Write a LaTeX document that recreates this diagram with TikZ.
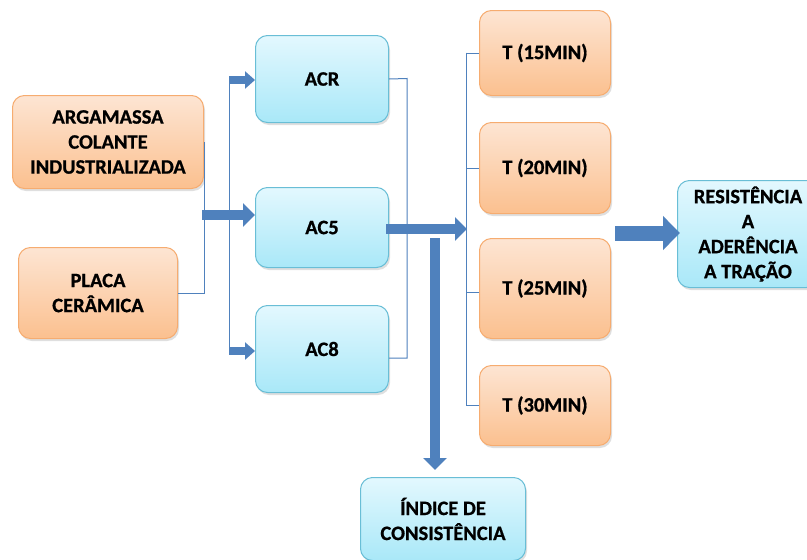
\documentclass[tikz,border=0pt]{standalone}
\usepackage{fontspec}
\setmainfont{Carlito}
\newfontfamily\heavy{Carlito Bold}[FakeBold=0.8]
\usetikzlibrary{arrows.meta,shadows}
\definecolor{orTop}{RGB}{253,229,211}
\definecolor{orBot}{RGB}{251,192,143}
\definecolor{orLine}{RGB}{246,172,112}
\definecolor{blTop}{RGB}{227,248,254}
\definecolor{blBot}{RGB}{169,232,248}
\definecolor{blLine}{RGB}{105,190,214}
\definecolor{arr}{RGB}{79,129,189}
\tikzset{
  box/.style={draw, line width=1pt, rounded corners=12pt, anchor=north west,
    inner sep=0pt, align=center, font=\heavy\fontsize{20.5}{25}\selectfont,
    drop shadow={shadow xshift=1.5pt,shadow yshift=-2.5pt,opacity=0.25}},
  orbox/.style={box, draw=orLine, top color=orTop, bottom color=orBot},
  blbox/.style={box, draw=blLine, top color=blTop, bottom color=blBot},
  thin/.style={draw=arr, line width=1pt},
  bigarrow/.style={draw=arr, line width=10pt, -{Triangle[length=12pt,width=23pt]}},
  smallarrow/.style={draw=arr, line width=8pt, -{Triangle[length=10pt,width=17pt]}},
  hugearrow/.style={draw=arr, line width=15pt, -{Triangle[length=17pt,width=33pt]}},
}
\begin{document}
\begin{tikzpicture}[x=1pt,y=-1pt]
\useasboundingbox[fill=white] (0,0) rectangle (807,560);
% nodes
\node[orbox, minimum width=191pt, minimum height=93pt] (arg) at (12,95) {ARGAMASSA\\COLANTE\\INDUSTRIALIZADA};
\node[orbox, minimum width=159pt, minimum height=91pt] (placa) at (18,247) {PLACA\\CERÂMICA};
\node[blbox, minimum width=133pt, minimum height=87pt] (acr) at (255,35) {ACR};
\node[blbox, minimum width=133pt, minimum height=80pt] (ac5) at (255,187) {AC5};
\node[blbox, minimum width=133pt, minimum height=87pt] (ac8) at (255,305) {AC8};
\node[orbox, minimum width=131pt, minimum height=85pt] (t15) at (479,10) {T (15MIN)};
\node[orbox, minimum width=131pt, minimum height=91pt] (t20) at (479,122) {T (20MIN)};
\node[orbox, minimum width=131pt, minimum height=100pt] (t25) at (479,238) {T (25MIN)};
\node[orbox, minimum width=131pt, minimum height=80pt] (t30) at (479,365) {T (30MIN)};
\node[blbox, minimum width=141pt, minimum height=107pt] (res) at (677,180) {RESISTÊNCIA\\A\\ADERÊNCIA\\A TRAÇÃO};
\node[blbox, minimum width=165pt, minimum height=83pt] (ind) at (360,477) {ÍNDICE DE\\CONSISTÊNCIA};
% coordinates
\coordinate (j1) at (202,215);
\coordinate (b1) at (229,80);
\coordinate (b2) at (229,351);
\coordinate (r1) at (407,78.5);
\coordinate (r2) at (407,358);
\coordinate (j2) at (386,229);
\coordinate (j2e) at (467,229);
\coordinate (d1) at (435,238);
\coordinate (d2) at (435,470);
\coordinate (tv1) at (466,52.5);
\coordinate (tv2) at (466,405);
\coordinate (h1) at (615,233);
% thin connectors
\draw[thin] (arg.east) |- (placa.east);
\draw[thin] (b1) -- (b2);
\draw[thin] (acr.east) -- (r1) -- (r2) -- (r2 -| ac8.east);
\draw[thin] (tv1) -- (tv2);
\draw[thin] (t15.west) -- (t15.west -| tv1);
\draw[thin] (t20.west) -- (t20.west -| tv1);
\draw[thin] (t25.west) ++(0,4) -- ++(-13,0);
\draw[thin] (t30.west) -- (t30.west -| tv1);
% arrows
\draw[bigarrow] (j1) -- (j1 -| ac5.west);
\draw[smallarrow] (b1) -- (b1 -| acr.west);
\draw[smallarrow] (b2) -- (b2 -| ac8.west);
\draw[bigarrow] (j2) -- (j2e);
\draw[bigarrow] (d1) -- (d2);
\draw[hugearrow] (h1) -- ([xshift=3pt]h1 -| res.west);
\end{tikzpicture}
\end{document}
